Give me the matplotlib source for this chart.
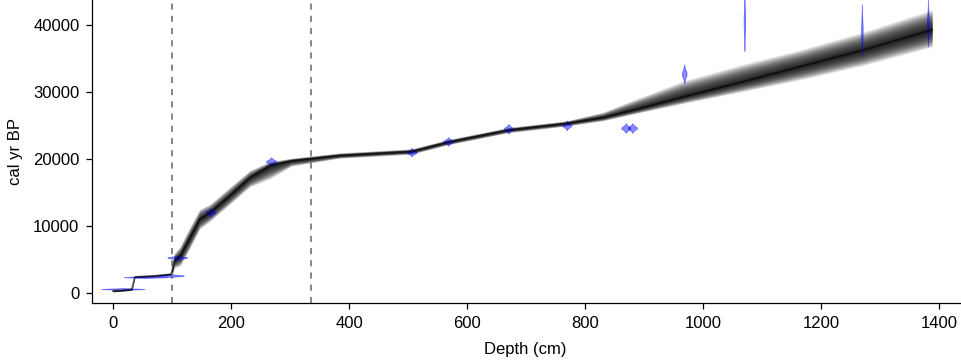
import numpy as np
import matplotlib
matplotlib.use("Agg")
import matplotlib.pyplot as plt

plt.rcParams["font.family"] = ["Liberation Sans", "DejaVu Sans"]

# =========================================
# AGE-DEPTH MODEL
# =========================================
model_depth = [0, 17, 32, 37, 68, 98, 100, 104, 114, 129, 147, 165, 198,
               232, 266, 302, 384, 506, 568, 670, 769, 831, 882, 968, 1070,
               1167, 1269, 1388]
model_age = [250, 350, 500, 2350, 2500, 2750, 3200, 4800, 5500, 8000, 11000,
             12000, 14500, 17200, 19000, 19700, 20500, 21100, 22500, 24300,
             25300, 26200, 27300, 29300, 31600, 33850, 36200, 39300]
model_lo = [150, 150, 150, 150, 150, 150, 600, 1100, 1500, 1600, 1500, 1300,
            1300, 1400, 2000, 800, 400, 400, 400, 400, 400, 500, 600, 1000,
            1500, 2000, 2300, 2600]
model_hi = [150, 150, 150, 150, 150, 150, 600, 1100, 1500, 1600, 1500, 1300,
            1300, 1100, 600, 400, 400, 400, 400, 400, 400, 800, 1500, 2400,
            2600, 2500, 2700, 3000]

# =========================================
# DATES (calibrated distributions)
# =========================================
date_depth = [17, 55, 98, 109, 165, 268, 506, 568, 670, 769, 869, 880,
              968, 1070, 1269, 1381]
date_age = [550, 2330, 2550, 5250, 12000, 19600, 21000, 22600, 24500,
            25000, 24600, 24600, 32700, 40500, 39200, 40300]
date_err = [60, 60, 100, 130, 250, 250, 250, 250, 280, 280, 280, 280,
            550, 1750, 1550, 1400]

boundaries = [100, 336]

# =========================================
# FIGURE
# =========================================
fig = plt.figure(figsize=(9.61, 3.61), dpi=100)
ax = fig.add_axes([92 / 961, 58 / 361, 869 / 961, 303 / 361])

d = np.array(model_depth, dtype=float)
m = np.array(model_age, dtype=float)
lo = np.array(model_lo, dtype=float)
hi = np.array(model_hi, dtype=float)

n_layers = 22
for f in np.linspace(1.0, 1.0 / n_layers, n_layers):
    ax.fill_between(d, m - f * lo, m + f * hi, color="black",
                    alpha=0.08, linewidth=0)
ax.plot(d, m, color="black", linewidth=1.3, alpha=0.6)

# dates as blue mirrored probability shapes
for dd, aa, ee in zip(date_depth, date_age, date_err):
    ages = np.linspace(aa - 2.5 * ee, aa + 2.5 * ee, 80)
    half = min(max(2200.0 / ee, 1.3), 37)
    w = half * np.exp(-0.5 * ((ages - aa) / ee) ** 2)
    ax.fill_betweenx(ages, dd - w, dd + w, facecolor="#0000ff",
                     edgecolor="#0000ff", alpha=0.45, linewidth=0.6)

for b in boundaries:
    ax.axvline(b, color="#666666", linestyle=(0, (4, 4)), linewidth=1.1)

ax.set_xlim(-35.6, 1437)
ax.set_ylim(-1540, 43730)

ax.set_xticks(range(0, 1401, 200))
ax.set_yticks(range(0, 40001, 10000))

ax.spines["top"].set_visible(False)
ax.spines["right"].set_visible(False)
for s in ["left", "bottom"]:
    ax.spines[s].set_linewidth(0.9)

ax.tick_params(direction="out", length=4.5, width=0.9, labelsize=12,
               pad=4.5)

ax.set_xlabel("Depth (cm)", fontsize=12)
ax.set_ylabel("cal yr BP", fontsize=12)
ax.xaxis.set_label_coords(0.498, -0.128)
ax.yaxis.set_label_coords(-0.079, 0.5)

fig.savefig("out.png", dpi=100)
